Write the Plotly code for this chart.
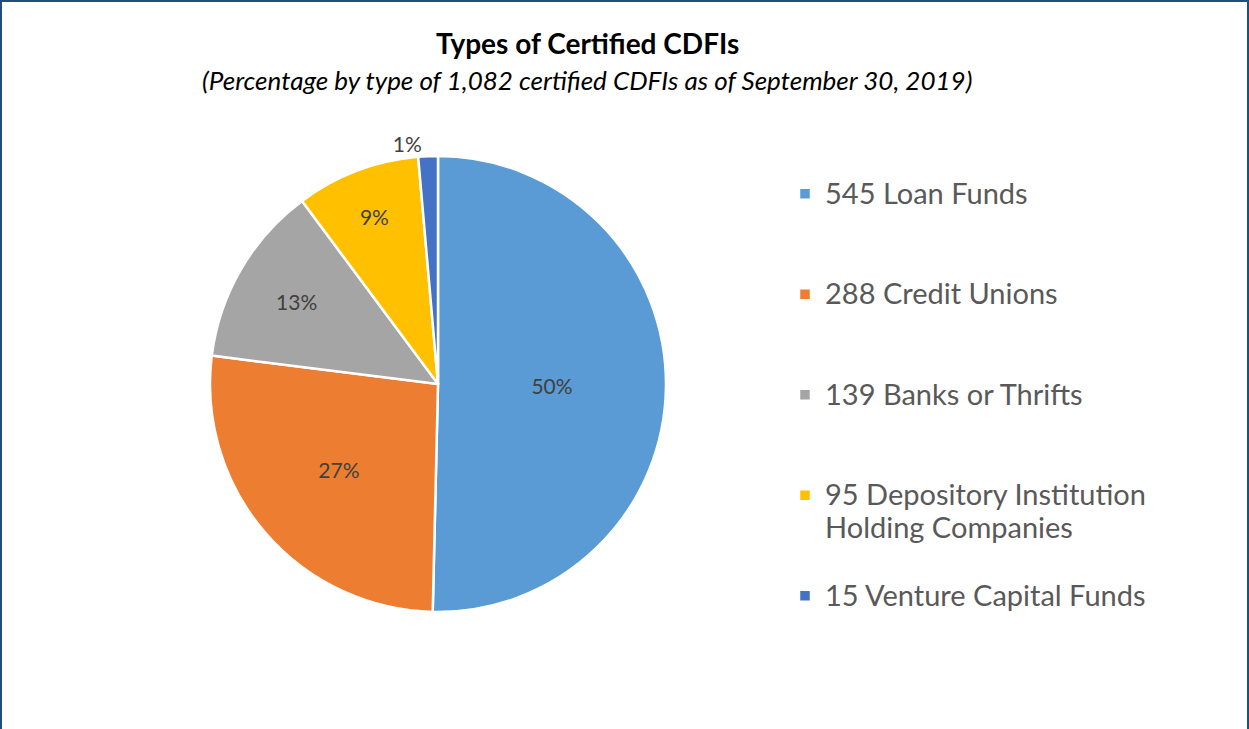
import plotly.graph_objects as go

# data
types = ["Loan Funds", "Credit Unions", "Banks or Thrifts",
         "Depository Institution<br>Holding Companies", "Venture Capital Funds"]
counts = [545, 288, 139, 95, 15]
colors = ["#5B9BD5", "#ED7D31", "#A5A5A5", "#FFC000", "#4472C4"]
text_pos = ["inside", "inside", "inside", "inside", "outside"]

_FONT = "Lato, 'Open Sans', sans-serif"
_TEXT = "#595959"
_BORDER = "#1F4E79"

W, H = 1249, 729


def legend_label(n, name):
    # pad every entry to three lines so the legend rows are evenly spaced
    text = f"{n} {name}"
    lines = text.count("<br>") + 1
    parts = text.split("<br>")
    text = "<br>".join(f"<span style='font-size:29px'>{p}</span>" for p in parts)
    return text + "<br> " * (3 - lines)


labels = [legend_label(n, t) for n, t in zip(counts, types)]

fig = go.Figure(
    go.Pie(
        labels=labels,
        values=counts,
        sort=False,
        direction="clockwise",
        rotation=0,
        marker=dict(colors=colors, line=dict(color="white", width=2.5)),
        texttemplate="%{percent:.0%}",
        textposition=text_pos,
        insidetextorientation="horizontal",
        textfont=dict(family=_FONT, size=21, color="#404040"),
        domain=dict(x=[(438 - 228) / W, (438 + 228) / W],
                    y=[1 - 612 / H, 1 - 156 / H]),
        hoverinfo="value+percent",
    )
)

fig.add_annotation(
    text="<b>Types of Certified CDFIs</b>",
    x=587 / W, y=1 - 43 / H, xref="paper", yref="paper",
    xanchor="center", yanchor="middle",
    showarrow=False, font=dict(family=_FONT, size=28, color="#000000"),
)
fig.add_annotation(
    text="<i>(Percentage by type of 1,082 certified CDFIs as of September 30, 2019)</i>",
    x=587 / W, y=1 - 80 / H, xref="paper", yref="paper",
    xanchor="center", yanchor="middle",
    showarrow=False, font=dict(family=_FONT, size=26, color="#000000"),
)

# border on left, top and right
for x0, y0, x1, y1 in [(0, 0, 0, 1), (0, 1, 1, 1), (1, 0, 1, 1)]:
    fig.add_shape(type="line", xref="paper", yref="paper",
                  x0=x0, y0=y0, x1=x1, y1=y1,
                  line=dict(color=_BORDER, width=4))

fig.update_layout(
    width=W,
    height=H,
    paper_bgcolor="white",
    plot_bgcolor="white",
    margin=dict(l=0, r=0, t=0, b=0),
    font=dict(family=_FONT, color=_TEXT),
    legend=dict(
        x=785 / W, y=1 - 171 / H, xanchor="left", yanchor="top",
        valign="top",
        font=dict(family=_FONT, size=25, color=_TEXT),
        itemwidth=30,
    ),
)

fig.write_html("out.html", config={"displayModeBar": False},
               post_script="document.body.style.margin='0';")
